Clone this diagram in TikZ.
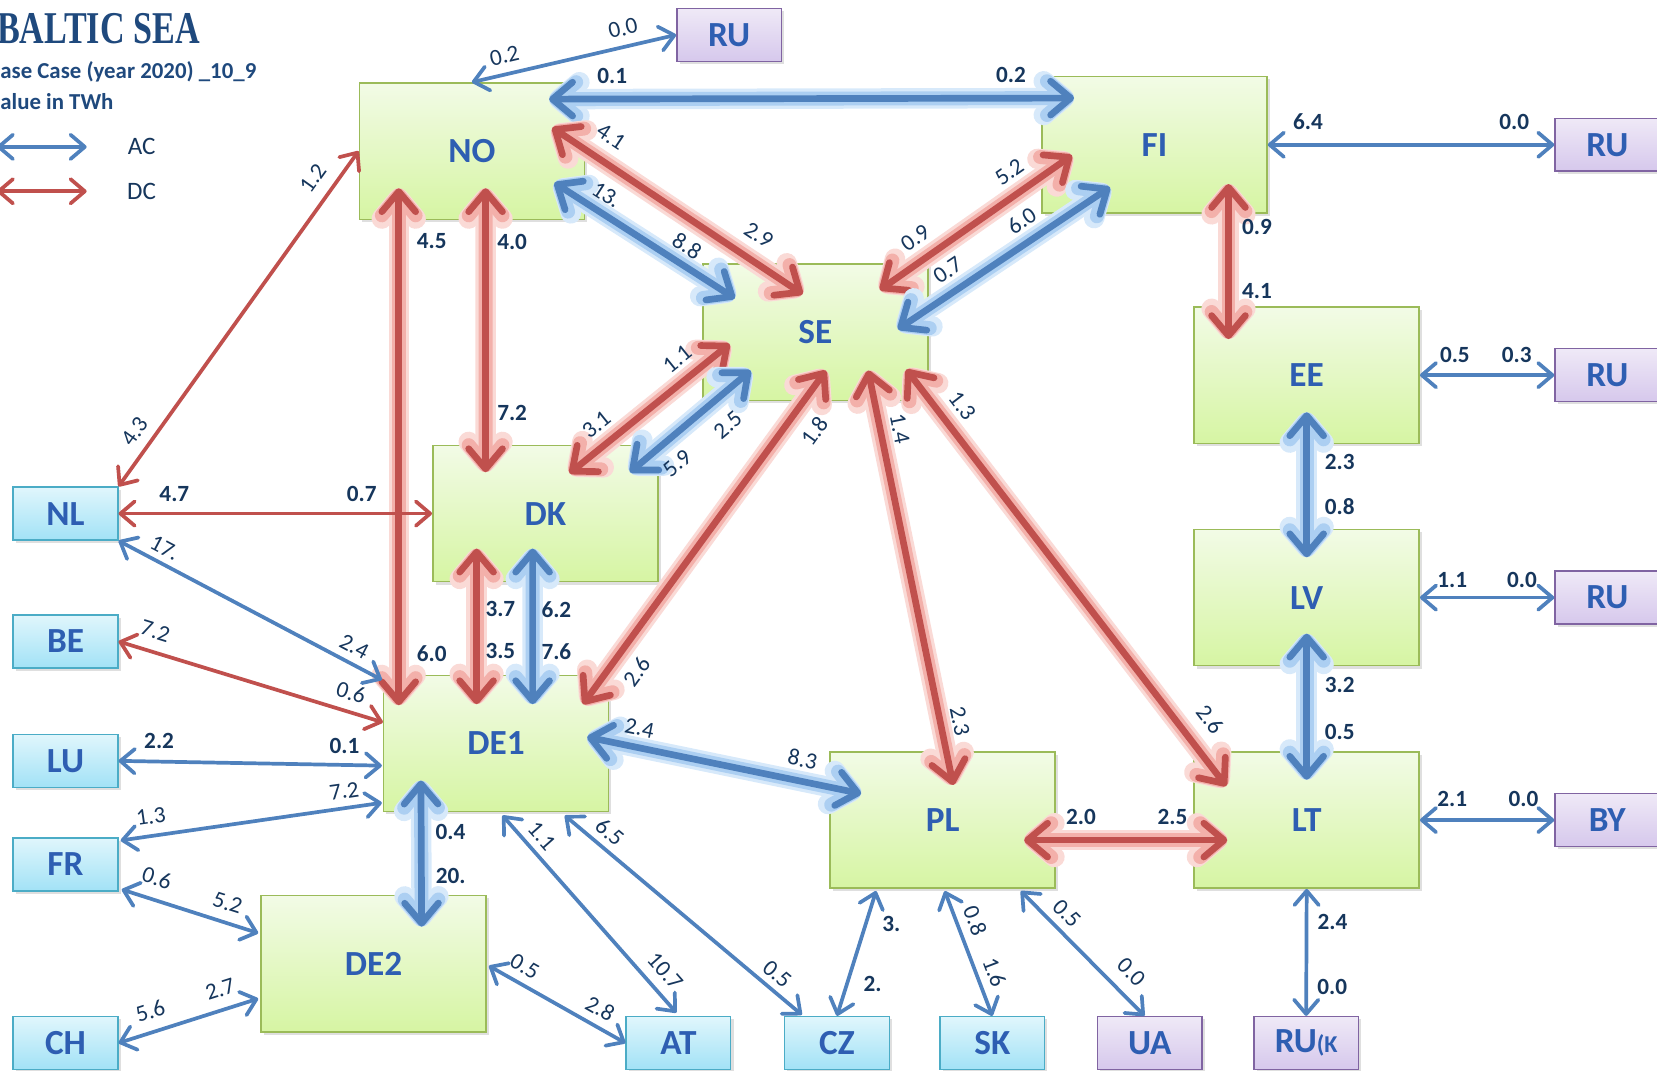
\documentclass[tikz,border=0pt]{standalone}
\usepackage{fontspec}
\setmainfont{Carlito}
\newfontfamily\titlefont{Liberation Serif}
\usepackage{graphicx}
\usetikzlibrary{arrows.meta,shadows}

\definecolor{acblue}{RGB}{79,129,189}
\definecolor{dcred}{RGB}{192,80,77}
\definecolor{acglowc}{RGB}{172,207,242}
\definecolor{dcglowc}{RGB}{243,176,170}
\definecolor{acglowo}{RGB}{215,233,250}
\definecolor{dcglowo}{RGB}{250,218,214}
\definecolor{numc}{RGB}{22,54,92}
\definecolor{titlec}{RGB}{31,73,125}
\definecolor{labblue}{RGB}{46,94,178}
\definecolor{greentop}{RGB}{242,251,230}
\definecolor{greenbot}{RGB}{214,245,163}
\definecolor{greenline}{RGB}{155,187,89}
\definecolor{purptop}{RGB}{239,233,247}
\definecolor{purpbot}{RGB}{214,200,236}
\definecolor{purpline}{RGB}{128,100,162}
\definecolor{cyantop}{RGB}{224,246,252}
\definecolor{cyanbot}{RGB}{162,226,246}
\definecolor{cyanline}{RGB}{75,172,198}

\begin{document}
\begin{tikzpicture}[
    x=0.02cm, y=-0.02cm,
    >={Straight Barb[length=0.27cm, width=0.46cm, round]},
    area/.style={draw=greenline, line width=0.8pt, top color=greentop, bottom color=greenbot,
      minimum width=4.26cm, minimum height=2.58cm, inner sep=0pt,
      drop shadow={shadow xshift=1.5pt, shadow yshift=-1.5pt, opacity=0.25},
      font=\fontsize{19}{22}\selectfont\bfseries, text=labblue},
    nbr/.style={line width=0.8pt, minimum width=1.98cm, minimum height=1cm, inner sep=0pt,
      drop shadow={shadow xshift=1.5pt, shadow yshift=-1.5pt, opacity=0.25},
      font=\fontsize{19}{22}\selectfont\bfseries, text=labblue},
    nbrcyan/.style={nbr, draw=cyanline, top color=cyantop, bottom color=cyanbot},
    nbrpurp/.style={nbr, draw=purpline, top color=purptop, bottom color=purpbot},
    acthin/.style={draw=acblue, line width=2pt, <->},
    dcthin/.style={draw=dcred, line width=2pt, <->},
    acglow/.style={draw=acblue, line width=3.6pt,
      >={Straight Barb[length=0.38cm, width=0.64cm, round]}, <->,
      preaction={draw=acglowo, line width=11pt},
      preaction={draw=acglowc, line width=7.5pt}},
    dcglow/.style={draw=dcred, line width=3.6pt,
      >={Straight Barb[length=0.38cm, width=0.64cm, round]}, <->,
      preaction={draw=dcglowo, line width=11pt},
      preaction={draw=dcglowc, line width=7.5pt}},
    num/.style={font=\fontsize{12.5}{14}\selectfont\bfseries, text=numc, inner sep=1pt},
    snum/.style={font=\fontsize{12.5}{14}\selectfont, text=numc, inner sep=1pt, sloped},
    legtext/.style={font=\fontsize{13.5}{16}\selectfont, text=numc},
    hdr/.style={anchor=base west, inner sep=0pt, text=titlec}
  ]
\useasboundingbox (0,0) rectangle (1568,1013);

% Title and legend
\node[hdr, font=\titlefont\fontsize{24.5}{28}\selectfont\bfseries] (title) at (-3,41) {\scalebox{0.75}[1]{BALTIC SEA}};
\node[hdr, font=\fontsize{12.3}{14}\selectfont\bfseries] (case) at (0,74) {ase Case (year 2020) \_10\_9};
\node[hdr, font=\fontsize{12.3}{14}\selectfont\bfseries] (unit) at (0,104) {alue in TWh};
\coordinate (acA) at (-3,139);
\coordinate (acB) at (82,139);
\coordinate (dcA) at (-3,181);
\coordinate (dcB) at (82,181);
\draw[acthin] (acA) -- (acB);
\draw[dcthin] (dcA) -- (dcB);
\node[legtext] (aclab) at (134,139) {AC};
\node[legtext] (dclab) at (134,181) {DC};

% Baltic areas
\node[area] (NO)  at (446.5,143)  {NO};
\node[area] (FI)  at (1092.5,137) {FI};
\node[area] (SE)  at (771.5,314.5) {SE};
\node[area] (EE)  at (1236.5,355) {EE};
\node[area] (DK)  at (516,486)    {DK};
\node[area] (LV)  at (1236.5,565.5) {LV};
\node[area] (DE1) at (469.5,703.5) {DE1};
\node[area] (PL)  at (892,776)    {PL};
\node[area] (LT)  at (1236.5,776) {LT};
\node[area] (DE2) at (353.5,912)  {DE2};

% Neighbours
\node[nbrpurp] (RUnw)  at (690,33)    {RU};
\node[nbrpurp] (RUfi)  at (1521,137)  {RU};
\node[nbrpurp] (RUee)  at (1521,355)  {RU};
\node[nbrpurp] (RUlv)  at (1521,565.5) {RU};
\node[nbrpurp] (BY)    at (1521,776)  {BY};
\node[nbrcyan] (NL)    at (62,486)    {NL};
\node[nbrcyan] (BE)    at (62,607)    {BE};
\node[nbrcyan] (LU)    at (62,720)    {LU};
\node[nbrcyan] (FR)    at (62,818)    {FR};
\node[nbrcyan] (CH)    at (62,987)    {CH};
\node[nbrcyan] (AT)    at (642,987)   {AT};
\node[nbrcyan] (CZ)    at (792,987)   {CZ};
\node[nbrcyan] (SK)    at (939,987)   {SK};
\node[nbrpurp] (UA)    at (1088,987)  {UA};
\node[nbrpurp] (RUkal) at (1236,987)  {RU\fontsize{13}{15}\selectfont(K};

% Main links (glowing)
\draw[acglow] ([shift={(-34,16)}]NO.north east) -- ([shift={(31,21)}]FI.north west)
  node[num, pos=0.12, above=5.5pt] {0.1} node[num, pos=0.88, above=5.5pt] {0.2};
\draw[dcglow] ([shift={(-31,43)}]NO.north east) -- ([shift={(-12,29)}]SE.north)
  node[snum, pos=0.18, above=6.5pt] {4.1} node[snum, pos=0.77, above=6.5pt] {2.9};
\draw[acglow] ([shift={(-29,30)}]NO.east) -- ([shift={(31,33)}]SE.north west)
  node[snum, pos=0.235, above=2.8pt] {13.} node[snum, pos=0.68, above=2.8pt] {8.8};
\draw[dcglow] ([shift={(29,10)}]FI.west) -- ([shift={(-46,25)}]SE.north east)
  node[snum, pos=0.26, above=5pt] {5.2} node[snum, pos=0.75, above=5pt] {0.9};
\draw[acglow] ([shift={(65,-25)}]FI.south west) -- ([shift={(-29,-3)}]SE.east)
  node[snum, pos=0.36, above=4.5pt] {6.0} node[snum, pos=0.71, above=4.5pt] {0.7};
\draw[dcglow] ([shift={(70,-28)}]FI.south) -- ([shift={(-74,31)}]EE.north)
  node[num, pos=0.28, right=4.5pt] {0.9} node[num, pos=0.69, right=4.5pt] {4.1};
\draw[acglow] ([shift={(0,-30)}]EE.south) -- ([shift={(0,27)}]LV.north)
  node[num, pos=0.345, right=7pt] {2.3} node[num, pos=0.65, right=7pt] {0.8};
\draw[acglow] ([shift={(0,-31)}]LV.south) -- ([shift={(0,27)}]LT.north)
  node[num, pos=0.35, right=7pt] {3.2} node[num, pos=0.67, right=7pt] {0.5};
\draw[dcglow] ([shift={(-30,19)}]PL.east) -- ([shift={(32,19)}]LT.west)
  node[num, pos=0.28, above=5.6pt] {2.0} node[num, pos=0.73, above=5.6pt] {2.5};
\draw[dcglow] ([shift={(-21,-30)}]SE.south east) -- ([shift={(31,33)}]LT.north west)
  node[snum, pos=0.12, above=5pt] {1.3} node[snum, pos=0.88, above=8pt] {2.6};
\draw[dcglow] ([shift={(50,-29)}]SE.south) -- ([shift={(10,32)}]PL.north)
  node[snum, pos=0.15, above=3.5pt] {1.4} node[snum, pos=0.855, above=3.5pt] {2.3};
\draw[dcglow] ([shift={(10,-29)}]SE.south) -- ([shift={(-25,28)}]DE1.north east)
  node[snum, pos=0.135, below=7pt] {1.8} node[snum, pos=0.86, below=6pt] {2.6};
\draw[dcglow] ([shift={(26,11)}]SE.west) -- ([shift={(23,27)}]DK.north)
  node[snum, pos=0.244, above=4.5pt] {1.1} node[snum, pos=0.75, above=4.5pt] {3.1};
\draw[acglow] ([shift={(46,-29)}]SE.south west) -- ([shift={(-27,26)}]DK.north east)
  node[snum, pos=0.333, below=7.5pt] {2.5} node[snum, pos=0.736, below=5.8pt] {5.9};
\draw[dcglow] ([shift={(38,-30)}]NO.south west) -- ([shift={(15,29)}]DE1.north west)
  node[num, pos=0.103, right=7pt] {4.5} node[num, pos=0.9, right=7pt] {6.0};
\draw[dcglow] ([shift={(13,-30)}]NO.south) -- ([shift={(-56.5,26)}]DK.north)
  node[num, pos=0.19, right=3.5pt] {4.0} node[num, pos=0.79, right=3.5pt] {7.2};
\draw[dcglow] ([shift={(-65,-32)}]DK.south) -- ([shift={(-18.5,28)}]DE1.north)
  node[num, pos=0.39, right=2pt] {3.7} node[num, pos=0.66, right=2pt] {3.5};
\draw[acglow] ([shift={(-12,-32)}]DK.south) -- ([shift={(34.5,28)}]DE1.north)
  node[num, pos=0.39, right=2pt] {6.2} node[num, pos=0.66, right=2pt] {7.6};
\draw[acglow] ([shift={(-21,-6)}]DE1.east) -- ([shift={(30,-25)}]PL.west)
  node[snum, pos=0.177, above=3.5pt] {2.4} node[snum, pos=0.77, above=4.7pt] {8.3};
\draw[acglow] ([shift={(36,-30)}]DE1.south west) -- ([shift={(45.5,30)}]DE2.north)
  node[num, pos=0.355, right=5pt] {0.4} node[num, pos=0.656, right=5pt] {20.};

% Links to neighbours
\draw[acthin] (NO.north) -- (RUnw.west)
  node[snum, pos=0.18, above=3.8pt] {0.2} node[snum, pos=0.76, above=3.8pt] {0.0};
\draw[acthin] (FI.east) -- (RUfi.west)
  node[num, pos=0.14, above=6pt] {6.4} node[num, pos=0.86, above=6pt] {0.0};
\draw[acthin] (EE.east) -- (RUee.west)
  node[num, pos=0.26, above=4.7pt] {0.5} node[num, pos=0.72, above=4.7pt] {0.3};
\draw[acthin] (LV.east) -- (RUlv.west)
  node[num, pos=0.24, above=3.5pt] {1.1} node[num, pos=0.76, above=3.5pt] {0.0};
\draw[acthin] (LT.east) -- (BY.west)
  node[num, pos=0.24, above=5pt] {2.1} node[num, pos=0.77, above=5pt] {0.0};
\draw[acthin] (LT.south) -- (RUkal.north)
  node[num, pos=0.26, right=4pt] {2.4} node[num, pos=0.77, right=4pt] {0.0};
\draw[acthin] ([shift={(-63,2)}]PL.south) -- (CZ.north)
  node[num, pos=0.264, right=7pt] {3.} node[num, pos=0.748, right=7pt] {2.};
\draw[acthin] ([shift={(2,2)}]PL.south) -- (SK.north)
  node[snum, pos=0.29, above=3.3pt] {0.8} node[snum, pos=0.7, above=3.3pt] {1.6};
\draw[acthin] ([shift={(74,2)}]PL.south) -- ([shift={(-5,0)}]UA.north)
  node[snum, pos=0.275, above=3pt] {0.5} node[snum, pos=0.77, above=5.5pt] {0.0};
\draw[acthin] ([shift={(6,3)}]DE1.south) -- ([shift={(-2,-3)}]AT.north)
  node[snum, pos=0.157, above=2.5pt] {1.1} node[snum, pos=0.853, above=4.2pt] {10.7};
\draw[acthin] ([shift={(65,3)}]DE1.south) -- ([shift={(17,-1)}]CZ.north west)
  node[snum, pos=0.146, above=2.5pt] {6.5} node[snum, pos=0.854, above=2.2pt] {0.5};
\draw[acthin] ([shift={(2,2)}]DE2.east) -- (AT.west)
  node[snum, pos=0.2, above=3.2pt] {0.5} node[snum, pos=0.752, above=3.2pt] {2.8};
\draw[dcthin] (NO.west) -- (NL.north east)
  node[snum, pos=0.118, above=5.4pt] {1.2} node[snum, pos=0.869, above=4.2pt] {4.3};
\draw[dcthin] (NL.east) -- (DK.west)
  node[num, pos=0.178, above=4.3pt] {4.7} node[num, pos=0.776, above=4.3pt] {0.7};
\draw[acthin] (NL.south east) -- ([shift={(-1,5)}]DE1.north west)
  node[snum, pos=0.149, above=2pt] {17.} node[snum, pos=0.866, above=2.8pt] {2.4};
\draw[dcthin] (BE.east) -- ([shift={(0,-20)}]DE1.west)
  node[snum, pos=0.116, above=5pt] {7.2} node[snum, pos=0.859, above=4pt] {0.6};
\draw[acthin] (LU.east) -- ([shift={(-1,21)}]DE1.west)
  node[num, pos=0.154, above=4.8pt] {2.2} node[num, pos=0.858, above=4pt] {0.1};
\draw[acthin] ([shift={(2,3)}]FR.north east) -- ([shift={(-1,-9)}]DE1.south west)
  node[snum, pos=0.126, above=4.4pt] {1.3} node[snum, pos=0.865, above=3pt] {7.2};
\draw[acthin] ([shift={(3,-2)}]FR.south east) -- ([shift={(-2,-29)}]DE2.west)
  node[snum, pos=0.21, above=5.4pt] {0.6} node[snum, pos=0.733, above=4.4pt] {5.2};
\draw[acthin] (CH.east) -- ([shift={(-2,33)}]DE2.west)
  node[snum, pos=0.272, above=5pt] {5.6} node[snum, pos=0.772, above=5pt] {2.7};

\end{tikzpicture}
\end{document}
